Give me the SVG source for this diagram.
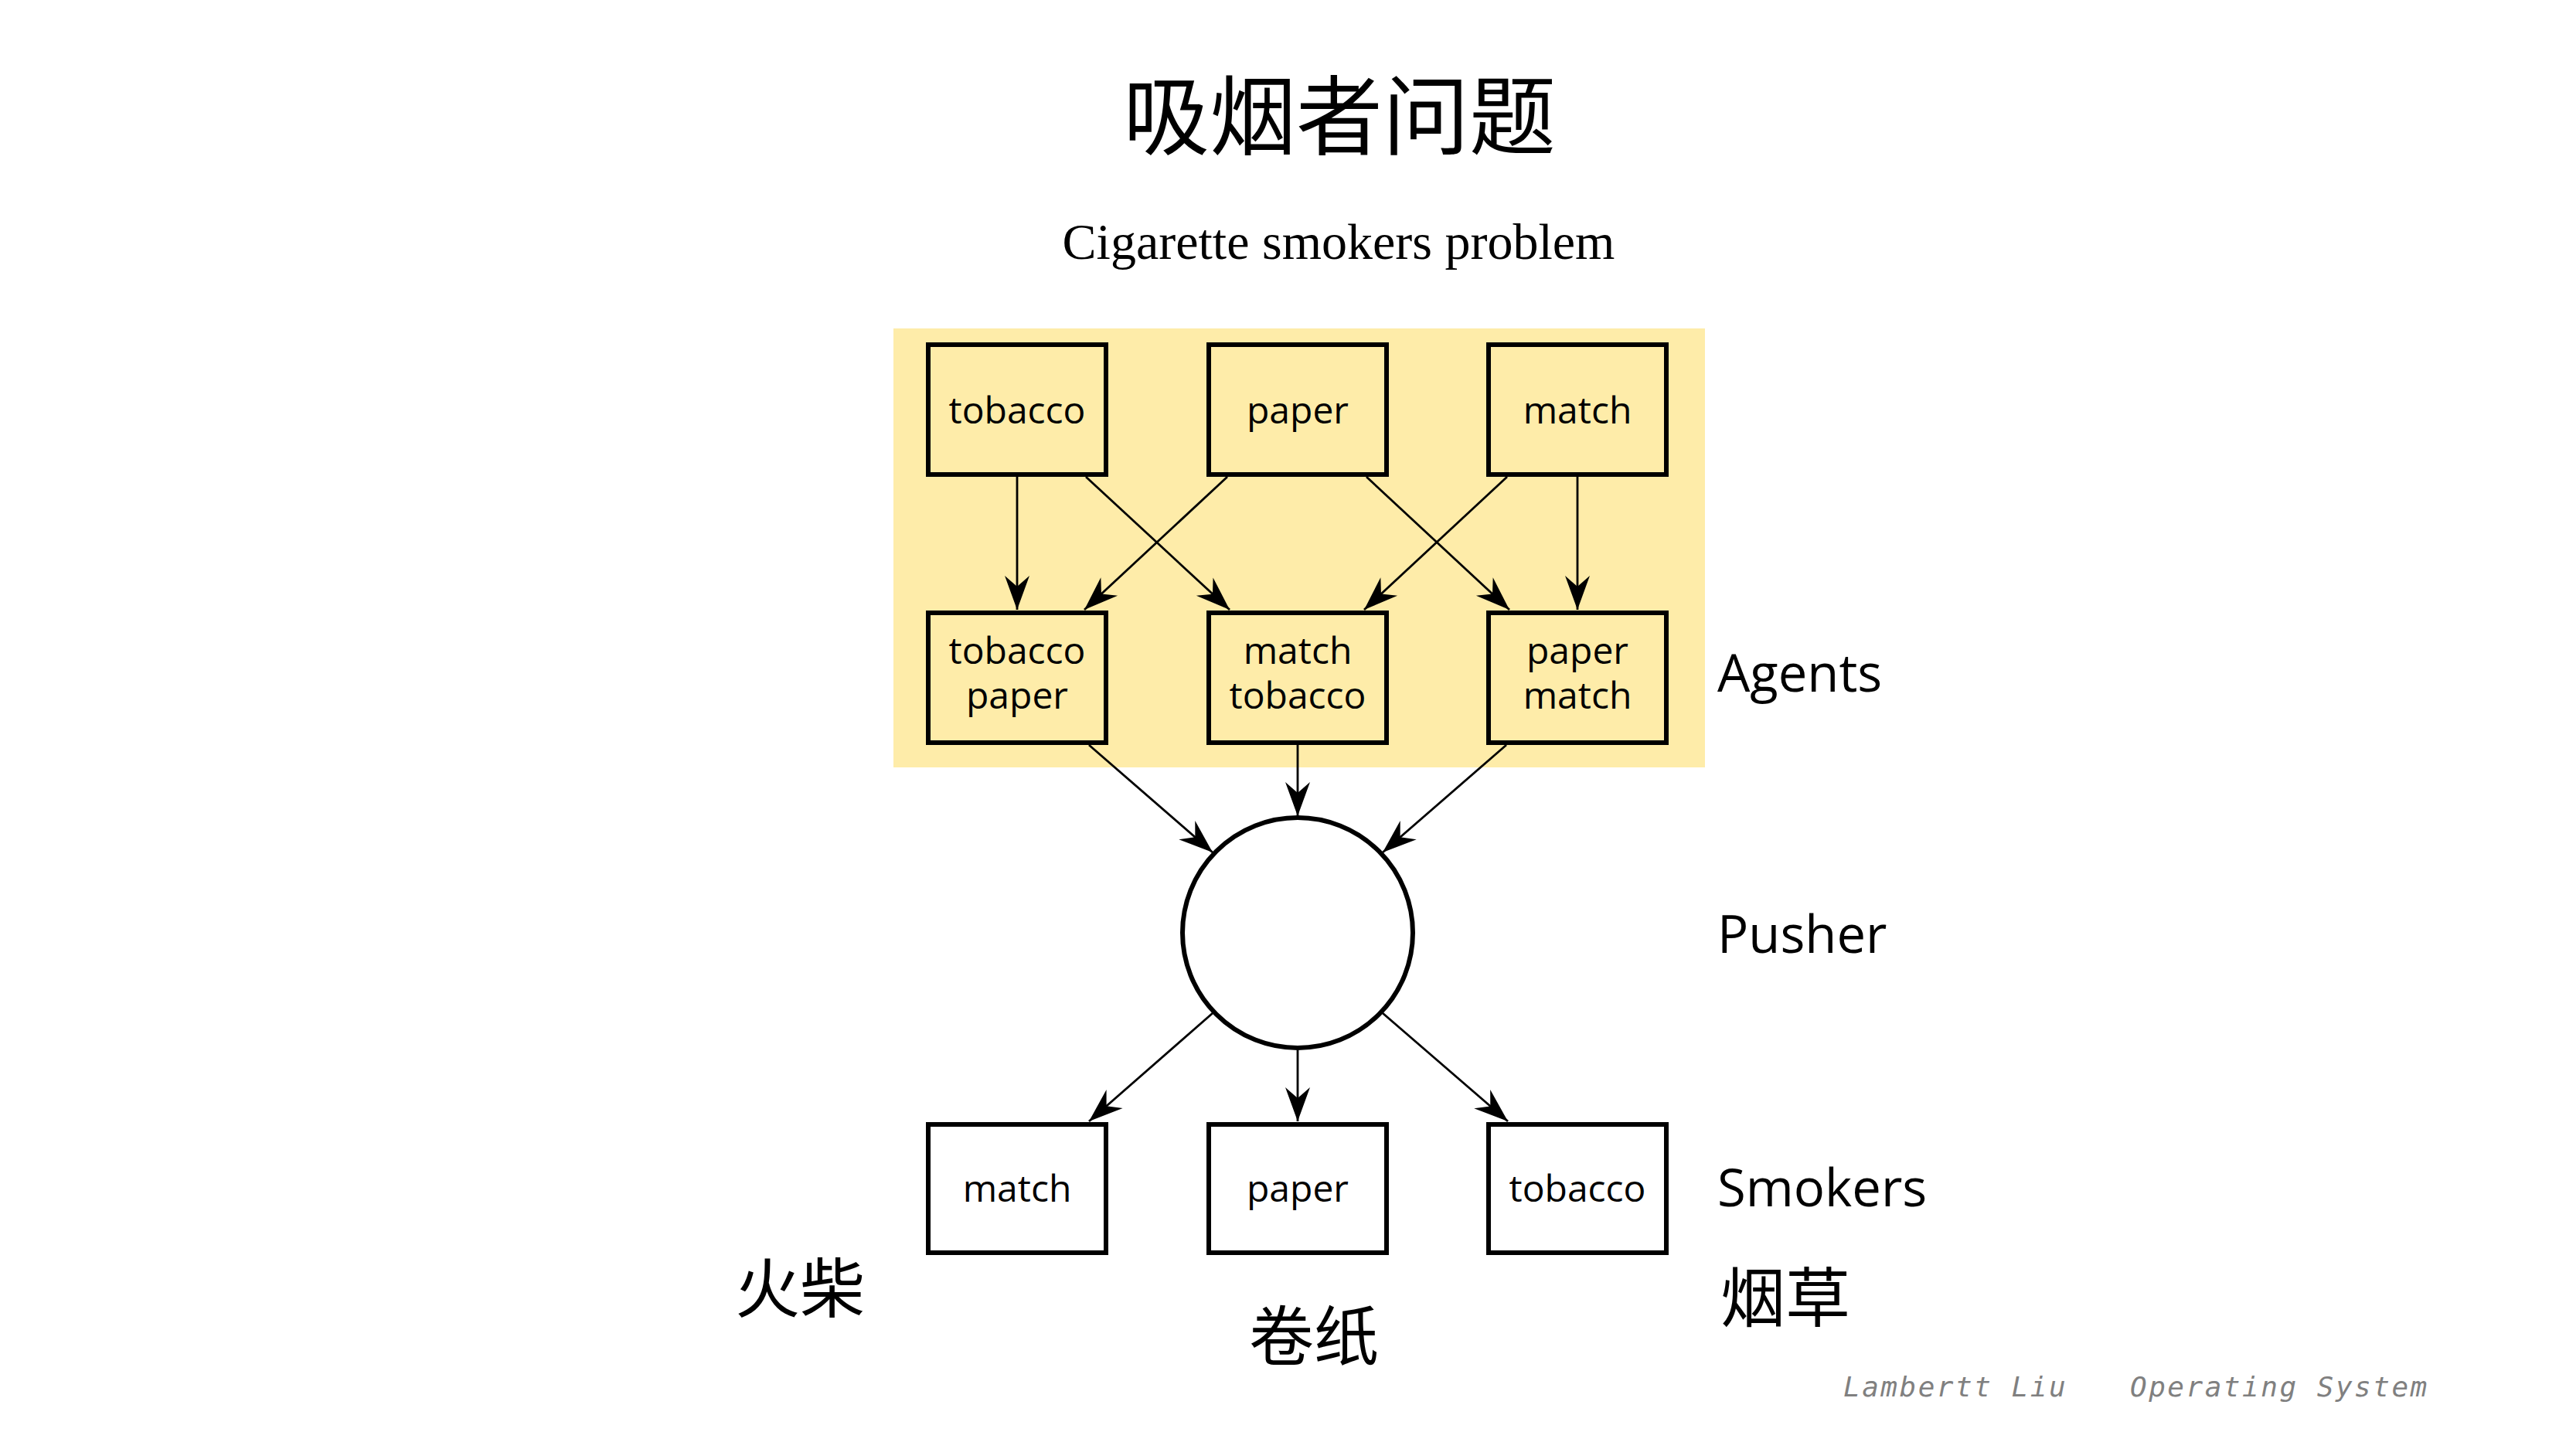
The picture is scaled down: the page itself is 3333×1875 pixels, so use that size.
<svg xmlns="http://www.w3.org/2000/svg" width="3333" height="1875" viewBox="0 0 3333 1875">
<defs>
<style>
.box{fill:none;stroke:#000;stroke-width:6}
.wbox{fill:#fff;stroke:#000;stroke-width:6}
.lbl{font-family:"Open Sans","Noto Sans",sans-serif;font-size:48px;fill:#000;text-anchor:middle}
.side{font-family:"Open Sans","Noto Sans",sans-serif;font-size:67px;fill:#000}
.cjk{font-family:"Liberation Serif","Noto Sans CJK SC",serif;fill:#000;text-anchor:middle}
.edge{stroke:#000;stroke-width:2.8;fill:none;marker-end:url(#arr)}
.foot{font-family:"DejaVu Sans Mono",monospace;font-style:italic;font-size:36px;fill:#808080;letter-spacing:2.5px}
</style>
<marker id="arr" viewBox="-46 -18 48 36" markerWidth="48" markerHeight="36" refX="0" refY="0" orient="auto" markerUnits="userSpaceOnUse">
<path d="M0,0 L-44,-16 L-30,0 L-44,16 Z" fill="#000"/>
</marker>
</defs>
<rect width="3333" height="1875" fill="#fff"/>
<g id="title">
<text class="cjk" x="1733" y="192" font-size="112">吸烟者问题</text>
<text x="1732" y="335" font-family="Liberation Serif,serif" font-size="66" text-anchor="middle" fill="#000">Cigarette smokers problem</text>
</g>
<rect id="agents-bg" x="1156" y="425" width="1050" height="568" fill="#FEECA9"/>
<g id="connectors">
<line class="edge" x1="1316" y1="617" x2="1316" y2="789"/>
<line class="edge" x1="1405" y1="617" x2="1591" y2="789"/>
<line class="edge" x1="1588" y1="617" x2="1403" y2="789"/>
<line class="edge" x1="1768" y1="617" x2="1953" y2="789"/>
<line class="edge" x1="1950" y1="617" x2="1765" y2="789"/>
<line class="edge" x1="2041" y1="617" x2="2041" y2="789"/>
<line class="edge" x1="1409" y1="964" x2="1569" y2="1103"/>
<line class="edge" x1="1679" y1="964" x2="1679" y2="1056"/>
<line class="edge" x1="1949" y1="964" x2="1789" y2="1103"/>
<line class="edge" x1="1569" y1="1311" x2="1409" y2="1451"/>
<line class="edge" x1="1679" y1="1359" x2="1679" y2="1451"/>
<line class="edge" x1="1789" y1="1311" x2="1951" y2="1451"/>
</g>
<g id="agent-tobacco"><rect class="box" x="1201" y="446" width="230" height="168"/><text class="lbl" x="1316" y="548">tobacco</text></g>
<g id="agent-paper"><rect class="box" x="1564" y="446" width="230" height="168"/><text class="lbl" x="1679" y="548">paper</text></g>
<g id="agent-match"><rect class="box" x="1926" y="446" width="230" height="168"/><text class="lbl" x="2041" y="548">match</text></g>
<g id="pair-tobacco-paper"><rect class="box" x="1201" y="793" width="230" height="168"/><text class="lbl" x="1316" y="859">tobacco</text><text class="lbl" x="1316" y="917">paper</text></g>
<g id="pair-match-tobacco"><rect class="box" x="1564" y="793" width="230" height="168"/><text class="lbl" x="1679" y="859">match</text><text class="lbl" x="1679" y="917">tobacco</text></g>
<g id="pair-paper-match"><rect class="box" x="1926" y="793" width="230" height="168"/><text class="lbl" x="2041" y="859">paper</text><text class="lbl" x="2041" y="917">match</text></g>
<g id="pusher"><circle cx="1679" cy="1207" r="149" fill="#fff" stroke="#000" stroke-width="6"/></g>
<g id="smoker-match"><rect class="wbox" x="1201" y="1455" width="230" height="166"/><text class="lbl" x="1316" y="1555">match</text></g>
<g id="smoker-paper"><rect class="wbox" x="1564" y="1455" width="230" height="166"/><text class="lbl" x="1679" y="1555">paper</text></g>
<g id="smoker-tobacco"><rect class="wbox" x="1926" y="1455" width="230" height="166"/><text class="lbl" x="2041" y="1555">tobacco</text></g>
<g id="labels">
<text class="side" x="2222" y="895">Agents</text>
<text class="side" x="2222" y="1233">Pusher</text>
<text class="side" x="2222" y="1561">Smokers</text>
<text class="cjk" x="1035" y="1698" font-size="84">火柴</text>
<text class="cjk" x="1700" y="1760" font-size="84">卷纸</text>
<text class="cjk" x="2310" y="1710" font-size="84">烟草</text>
</g>
<g id="footer">
<text class="foot" x="2385" y="1807">Lambertt Liu</text>
<text class="foot" x="2756" y="1807">Operating System</text>
</g>
</svg>
